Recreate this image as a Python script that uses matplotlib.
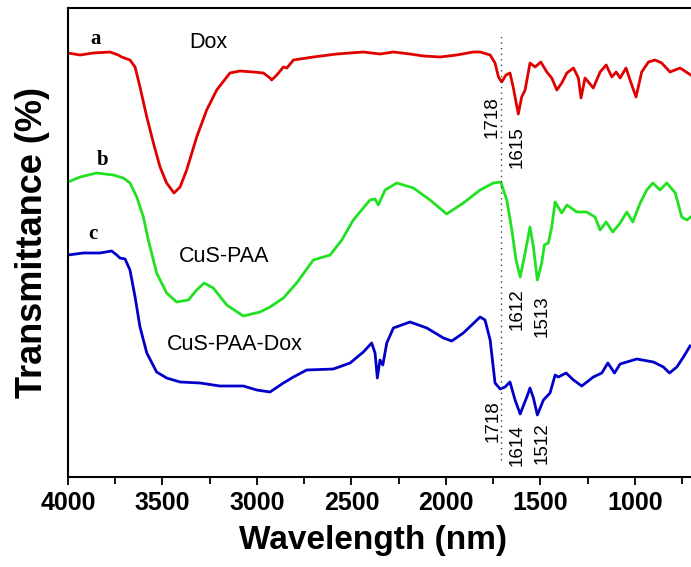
import matplotlib
matplotlib.use("Agg")
import matplotlib.pyplot as plt
from matplotlib.ticker import MultipleLocator

plt.rcParams['font.family'] = ['Liberation Sans', 'DejaVu Sans']

# spectra (wavenumber, transmittance in arbitrary offset units)
dox_x = [4000, 3936, 3866, 3778, 3734, 3716, 3672, 3645, 3619, 3583, 3548, 3513, 3478,
         3439, 3407, 3372, 3319, 3266, 3213, 3143, 3090, 3019, 2966, 2931, 2922, 2895,
         2860, 2842, 2807, 2702, 2578, 2437, 2349, 2278, 2190, 2119, 2031, 1943, 1855,
         1819, 1766, 1740, 1722, 1705, 1682, 1661, 1643, 1617, 1599, 1581, 1555, 1528,
         1498, 1466, 1440, 1413, 1387, 1360, 1325, 1299, 1285, 1264, 1246, 1220, 1184,
         1152, 1122, 1099, 1078, 1047, 1022, 994, 964, 928, 893, 858, 814, 761, 704]
dox_y = [424, 422, 424, 425, 422, 420, 417, 410, 390, 360, 334, 310, 294,
         284, 290, 307, 340, 367, 387, 404, 406, 405, 404, 399, 397, 402,
         410, 409, 417, 420, 423, 425, 423, 425, 423, 421, 420, 422, 425,
         425, 422, 414, 400, 395, 402, 404, 389, 363, 380, 387, 414, 410,
         415, 405, 399, 387, 394, 404, 409, 399, 379, 399, 395, 389, 405,
         412, 400, 405, 399, 409, 395, 380, 405, 415, 417, 414, 405, 409, 402]

paa_x = [4000, 3936, 3848, 3760, 3707, 3672, 3636, 3601, 3575, 3531, 3478, 3425, 3363,
         3319, 3280, 3231, 3160, 3072, 2984, 2931, 2860, 2790, 2702, 2613, 2551, 2490,
         2402, 2375, 2358, 2322, 2260, 2172, 2084, 1996, 1908, 1819, 1749, 1710, 1678,
         1651, 1629, 1607, 1581, 1555, 1537, 1516, 1493, 1479, 1458, 1440, 1422, 1387,
         1360, 1307, 1255, 1211, 1184, 1152, 1117, 1078, 1043, 1011, 972, 937, 905,
         867, 831, 786, 752, 725, 704]
paa_y = [295, 300, 304, 302, 299, 294, 280, 260, 237, 204, 184, 175, 177,
         187, 194, 189, 172, 161, 165, 170, 179, 194, 217, 222, 237, 257,
         277, 278, 272, 287, 294, 289, 277, 263, 274, 287, 294, 295, 277,
         247, 217, 200, 224, 250, 230, 197, 214, 232, 234, 250, 275, 264,
         272, 265, 265, 260, 247, 255, 245, 254, 265, 255, 274, 287, 294,
         287, 294, 284, 260, 257, 260]

pdox_x = [4000, 3919, 3831, 3769, 3742, 3725, 3698, 3672, 3645, 3619, 3583, 3531, 3478,
          3407, 3301, 3196, 3072, 3001, 2931, 2860, 2807, 2737, 2596, 2507, 2437, 2393,
          2375, 2363, 2349, 2334, 2313, 2278, 2190, 2101, 2013, 1969, 1908, 1819, 1793,
          1766, 1740, 1713, 1687, 1661, 1634, 1607, 1572, 1555, 1537, 1516, 1484, 1449,
          1422, 1405, 1364, 1325, 1281, 1220, 1175, 1143, 1108, 1078, 990, 902, 849,
          817, 778, 743, 708]
pdox_y = [222, 224, 224, 226, 222, 219, 218, 207, 180, 150, 124, 105, 99,
          95, 94, 91, 91, 87, 85, 94, 100, 107, 108, 114, 125, 134,
          124, 99, 117, 112, 134, 149, 155, 149, 139, 136, 144, 160, 157,
          137, 94, 88, 90, 95, 77, 63, 80, 89, 79, 62, 77, 84,
          102, 100, 104, 97, 91, 100, 104, 114, 104, 113, 118, 115, 110,
          104, 110, 120, 131]

names = ['Dox', 'CuS-PAA', 'CuS-PAA-Dox']
letters = ['a', 'b', 'c']
colors = ['#e00000', '#22e022', '#0000c8']

# peak labels: text, wavenumber, height
peaks = [('1718', 1757, 360), ('1615', 1625, 330),
         ('1612', 1625, 168), ('1513', 1493, 161),
         ('1718', 1749, 56), ('1614', 1625, 32), ('1512', 1493, 34)]
marker_line = 1710

fig = plt.figure(figsize=(6.91, 5.67), dpi=100)
ax = fig.add_axes([68/691, 90/567, 623/691, 469/567])

ax.plot(dox_x, dox_y, color=colors[0], lw=2)
ax.plot(paa_x, paa_y, color=colors[1], lw=2)
ax.plot(pdox_x, pdox_y, color=colors[2], lw=2)

ax.plot([marker_line, marker_line], [17, 445], color='#444444', lw=1, ls=(0, (1, 3)))

ax.text(3259, 434, names[0], fontsize=15.5, ha='center', va='center')
ax.text(3174, 220, names[1], fontsize=15.5, ha='center', va='center')
ax.text(3119, 132, names[2], fontsize=15.5, ha='center', va='center')

for s, x, y in zip(letters, [3852, 3815, 3868], [438, 317, 243]):
    ax.text(x, y, s, fontsize=15, fontweight='bold', ha='center', va='center',
            family=['Liberation Serif', 'DejaVu Serif'])

for s, x, y in peaks:
    ax.text(x, y, s, fontsize=13.5, rotation=90, ha='center', va='center')

ax.set_xlim(4000, 703)
ax.set_ylim(0, 469)
ax.xaxis.set_major_locator(MultipleLocator(500))
ax.xaxis.set_minor_locator(MultipleLocator(250))
ax.tick_params(axis='x', which='major', direction='out', length=6, width=1.3, pad=4,
               labelsize=18)
ax.tick_params(axis='x', which='minor', direction='out', length=5, width=1.3)
for lab in ax.get_xticklabels():
    lab.set_fontweight('bold')
ax.set_yticks([])
ax.spines['right'].set_visible(False)
for sp in ['left', 'top', 'bottom']:
    ax.spines[sp].set_linewidth(1.5)

fig.text(373/691, 1 - 541/567, 'Wavelength (nm)', fontsize=24, fontweight='bold',
         ha='center', va='center')
fig.text(33/691, 1 - 242/567, 'Transmittance (%)', fontsize=26, fontweight='bold',
         rotation=90, ha='center', va='center')

fig.savefig('out.png', dpi=100)
